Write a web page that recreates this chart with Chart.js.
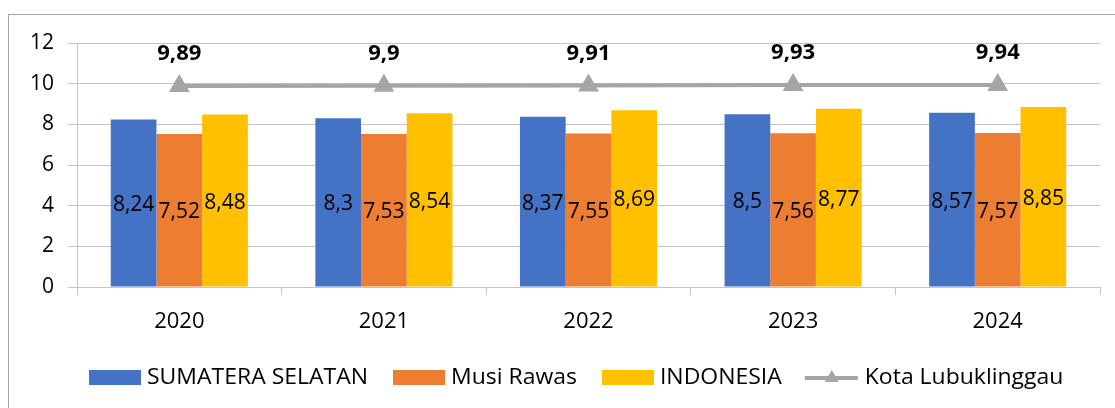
<!DOCTYPE html>
<html>
<head>
<meta charset="utf-8">
<script src="https://cdn.jsdelivr.net/npm/chart.js@4"></script>
<style>
  html, body { margin: 0; padding: 0; background: #fff; }
  #wrap { width: 1115px; height: 408px; }
</style>
</head>
<body>
<div id="wrap"><canvas id="chart" width="1115" height="408"></canvas></div>
<script>
// ---- data ----
const years = ['2020', '2021', '2022', '2023', '2024'];
const sumsel = [8.24, 8.3, 8.37, 8.5, 8.57];
const musiRawas = [7.52, 7.53, 7.55, 7.56, 7.57];
const indonesia = [8.48, 8.54, 8.69, 8.77, 8.85];
const lubuklinggau = [9.89, 9.9, 9.91, 9.93, 9.94];
const yTicks = [0, 2, 4, 6, 8, 10, 12];

const FONT = "'Open Sans', 'Noto Sans', sans-serif";
const GRID = '#C4C4C4';

// comma decimals like the source
const fmt = v => String(v).replace('.', ',');

// outer frame
const framePlugin = {
  id: 'frame',
  beforeDraw(chart) {
    const c = chart.ctx;
    c.save();
    c.strokeStyle = '#A6A6A6';
    c.lineWidth = 1;
    c.strokeRect(8.5, 14.5, 1120, 420);
    c.restore();
  }
};

// value labels (no datalabels plugin offline)
const labelPlugin = {
  id: 'valueLabels',
  afterDatasetsDraw(chart) {
    const c = chart.ctx;
    c.save();
    c.textAlign = 'center';
    c.textBaseline = 'middle';
    c.fillStyle = '#000';
    chart.data.datasets.forEach((ds, i) => {
      const meta = chart.getDatasetMeta(i);
      meta.data.forEach((el, j) => {
        const txt = fmt(ds.data[j]);
        if (ds.type === 'line') {
          c.font = 'bold 22px ' + FONT;
          c.fillText(txt, el.x, el.y - 32);
        } else {
          c.font = '21px ' + FONT;
          c.fillText(txt, el.x, (el.y + el.base) / 2 + 2);
        }
      });
    });
    c.restore();
  }
};

// legend drawn by hand to match spacing
const legendPlugin = {
  id: 'handLegend',
  afterDraw(chart) {
    const c = chart.ctx;
    c.save();
    c.font = '21px ' + FONT;
    c.textBaseline = 'middle';
    const squeeze = 221 / c.measureText('SUMATERA SELATAN').width;
    let x = 89;
    const y = 378;
    chart.data.datasets.forEach(ds => {
      if (ds.type === 'line') {
        c.strokeStyle = ds.borderColor;
        c.lineWidth = 4;
        c.beginPath();
        c.moveTo(x - 2, y);
        c.lineTo(x + 51, y);
        c.stroke();
        c.fillStyle = ds.pointBackgroundColor;
        c.beginPath();
        c.moveTo(x + 25, y - 8);
        c.lineTo(x + 32, y + 4);
        c.lineTo(x + 18, y + 4);
        c.closePath();
        c.fill();
      } else {
        c.fillStyle = ds.backgroundColor;
        c.fillRect(x, y - 8, 52, 15);
      }
      x += 58;
      const w = c.measureText(ds.label).width * squeeze;
      c.fillStyle = '#000';
      c.save();
      c.translate(x, y);
      c.scale(squeeze, 1);
      c.fillText(ds.label, 0, 0);
      c.restore();
      x += w + 25;
    });
    c.restore();
  }
};

new Chart(document.getElementById('chart'), {
  data: {
    labels: years,
    datasets: [
      { type: 'bar', label: 'SUMATERA SELATAN', data: sumsel, backgroundColor: '#4472C4', order: 1 },
      { type: 'bar', label: 'Musi Rawas', data: musiRawas, backgroundColor: '#ED7D31', order: 1 },
      { type: 'bar', label: 'INDONESIA', data: indonesia, backgroundColor: '#FFC000', order: 1 },
      { type: 'line', label: 'Kota Lubuklinggau', data: lubuklinggau, order: 0,
        borderColor: '#A5A5A5', borderWidth: 4, pointStyle: 'triangle',
        pointRadius: 8, pointBackgroundColor: '#A5A5A5', pointBorderColor: '#A5A5A5',
        tension: 0 }
    ]
  },
  options: {
    responsive: false,
    animation: false,
    layout: { padding: { left: 0, right: 15, top: 43, bottom: 76 } },
    datasets: { bar: { categoryPercentage: 0.67, barPercentage: 1 } },
    plugins: {
      legend: { display: false },
      tooltip: { enabled: false }
    },
    scales: {
      x: {
        offset: true,
        afterFit: s => { s.height = 45; },
        grid: { display: true, drawOnChartArea: false, color: GRID, tickLength: 8, offset: true },
        border: { color: GRID },
        ticks: { color: '#000', padding: 14, font: { family: FONT, size: 22 } }
      },
      y: {
        min: yTicks[0],
        max: yTicks[yTicks.length - 1],
        afterFit: s => { s.width = 77; },
        afterBuildTicks: s => { s.ticks = yTicks.map(v => ({ value: v })); },
        grid: { color: GRID, tickLength: 9 },
        border: { color: GRID },
        ticks: { color: '#000', padding: 14, font: { family: FONT, size: 21 } }
      }
    }
  },
  plugins: [framePlugin, labelPlugin, legendPlugin]
});
</script>
</body>
</html>
